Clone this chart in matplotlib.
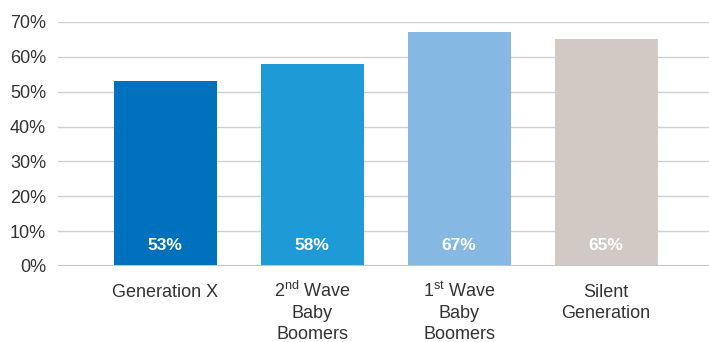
import numpy as np
import matplotlib.pyplot as plt
import matplotlib as mpl
from matplotlib.transforms import blended_transform_factory

mpl.rcParams['font.family'] = ['Liberation Sans', 'DejaVu Sans']
mpl.rcParams['mathtext.fontset'] = 'custom'
mpl.rcParams['mathtext.rm'] = 'Liberation Sans'

# データ
categories = [["Generation X"],
              ["2$^{\\mathrm{nd}}$ Wave", "Baby", "Boomers"],
              ["1$^{\\mathrm{st}}$ Wave", "Baby", "Boomers"],
              ["Silent", "Generation"]]
values = [53, 58, 67, 65]
colors = ["#0071bc", "#1e9ad6", "#85b9e3", "#d1c9c4"]
yticks = [0, 10, 20, 30, 40, 50, 60, 70]

W, H = 709, 342
fig = plt.figure(figsize=(W / 100, H / 100), dpi=100)
ax = fig.add_axes([58 / W, 76 / H, 1 - 58 / W, 244 / H])

x = np.arange(len(values))
ax.bar(x, values, width=0.70, color=colors, zorder=2)

for xi, v in zip(x, values):
    ax.text(xi, 6, "{}%".format(v), ha='center', va='center',
            color='white', fontsize=12.5, fontweight='bold', zorder=3)

ax.set_ylim(0, 70)
ax.set_xlim(-0.73, 3.70)
ax.set_yticks(yticks)
ax.set_yticklabels(["{}%".format(t) for t in yticks])
for t in yticks[1:]:
    ax.axhline(t, color='#d0d0d0', linewidth=1.0, zorder=1)
ax.axhline(0, color='#c4c4c4', linewidth=2.2, zorder=3)

ax.set_xticks([])
ax.tick_params(axis='y', length=0, pad=8.5, labelsize=13, labelcolor='#333333')

# カテゴリラベル（行ごとに配置）
trans = blended_transform_factory(ax.transData, fig.transFigure)
baselines = [297, 318.5, 339]
for xi, lines in zip(x, categories):
    for line, b in zip(lines, baselines):
        ax.text(xi, 1 - b / H, line, transform=trans, ha='center',
                va='baseline', fontsize=13, color='#333333')

for s in ax.spines.values():
    s.set_visible(False)

fig.savefig('out.png', dpi=100)
